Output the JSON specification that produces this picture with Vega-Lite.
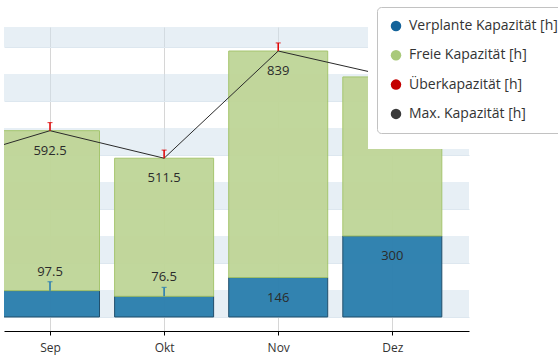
{
  "$schema": "https://vega.github.io/schema/vega-lite/v6.json",
  "width": 465,
  "height": 304,
  "autosize": {"type": "none"},
  "padding": {"left": 4, "top": 27, "right": 89, "bottom": 32},
  "background": "white",
  "config": {"font": "Open Sans", "view": {"stroke": null}},
  "datasets": {
    "bands": [
      {"lo": 0, "hi": 100}, {"lo": 200, "hi": 300}, {"lo": 400, "hi": 500},
      {"lo": 600, "hi": 700}, {"lo": 800, "hi": 900}, {"lo": 1000, "hi": 1100}
    ],
    "months": [
      {"idx": 1, "month": "Sep", "plan": 97.5, "frei": 592.5, "max": 690, "ueber": 720},
      {"idx": 2, "month": "Okt", "plan": 76.5, "frei": 511.5, "max": 588, "ueber": 618},
      {"idx": 3, "month": "Nov", "plan": 146, "frei": 839, "max": 985, "ueber": 1015},
      {"idx": 4, "month": "Dez", "plan": 300, "frei": 589, "max": 889, "ueber": 919}
    ],
    "maxline": [
      {"idx": 0, "month": "Aug", "max": 563},
      {"idx": 1, "month": "Sep", "max": 690},
      {"idx": 2, "month": "Okt", "max": 588},
      {"idx": 3, "month": "Nov", "max": 985},
      {"idx": 4, "month": "Dez", "max": 889}
    ],
    "planerr": [
      {"idx": 1, "month": "Sep", "plan": 97.5, "hi": 130.5},
      {"idx": 2, "month": "Okt", "plan": 76.5, "hi": 109.5}
    ],
    "series": [
      {"series": "Verplante Kapazität [h]"},
      {"series": "Freie Kapazität [h]"},
      {"series": "Überkapazität [h]"},
      {"series": "Max. Kapazität [h]"}
    ]
  },
  "layer": [
    {
      "data": {"name": "bands"},
      "mark": {"type": "rect", "fill": "#cfe0ec", "opacity": 0.5, "clip": true},
      "encoding": {
        "y": {
          "field": "lo", "type": "quantitative",
          "scale": {"domain": [-52, 1074], "nice": false, "zero": false, "padding": 0},
          "axis": {"labels": false, "ticks": false, "domain": false, "title": null,
                   "values": [0,100,200,300,400,500,600,700,800,900,1000],
                   "grid": true, "gridColor": "#dde7ef", "gridWidth": 1}
        },
        "y2": {"field": "hi"}
      }
    },
    {
      "data": {"name": "months"},
      "mark": {"type": "bar", "size": 99, "fill": "#2d80ae", "opacity": 0.97, "stroke": "#1b4a68", "strokeWidth": 1, "clip": true},
      "encoding": {
        "x": {
          "field": "idx", "type": "quantitative",
          "scale": {"domain": [0.5968, 4.672], "nice": false, "zero": false, "padding": 0},
          "axis": {
            "values": [1, 2, 3, 4],
            "labelExpr": "['Aug','Sep','Okt','Nov','Dez'][datum.value]",
            "title": null, "grid": true, "gridColor": "#d6d6d6",
            "domainColor": "#000000", "tickColor": "#000000", "tickSize": 4,
            "labelFontSize": 12, "labelColor": "#333333", "labelPadding": 7,
            "labelFont": "Open Sans"
          }
        },
        "y": {"field": "plan", "type": "quantitative"}
      }
    },
    {
      "data": {"name": "months"},
      "mark": {"type": "bar", "size": 99, "fill": "#c0d699", "opacity": 0.97, "stroke": "#a3c46a", "strokeWidth": 1, "clip": true},
      "encoding": {
        "x": {"field": "idx", "type": "quantitative"},
        "y": {"field": "plan", "type": "quantitative"},
        "y2": {"field": "max"}
      }
    },
    {
      "data": {"name": "maxline"},
      "mark": {"type": "line", "color": "#2a2a2a", "strokeWidth": 1, "clip": true},
      "encoding": {
        "x": {"field": "idx", "type": "quantitative"},
        "y": {"field": "max", "type": "quantitative"}
      }
    },
    {
      "data": {"name": "months"},
      "mark": {"type": "rule", "color": "#e00000", "strokeWidth": 1.5},
      "encoding": {
        "x": {"field": "idx", "type": "quantitative"},
        "y": {"field": "max", "type": "quantitative"},
        "y2": {"field": "ueber"}
      }
    },
    {
      "data": {"name": "months"},
      "mark": {"type": "tick", "orient": "horizontal", "size": 5, "thickness": 1.2, "color": "#e00000"},
      "encoding": {
        "x": {"field": "idx", "type": "quantitative"},
        "y": {"field": "ueber", "type": "quantitative"}
      }
    },
    {
      "data": {"name": "planerr"},
      "mark": {"type": "rule", "color": "#1f77b4", "strokeWidth": 1.5},
      "encoding": {
        "x": {"field": "idx", "type": "quantitative"},
        "y": {"field": "plan", "type": "quantitative"},
        "y2": {"field": "hi"}
      }
    },
    {
      "data": {"name": "planerr"},
      "mark": {"type": "tick", "orient": "horizontal", "size": 5, "thickness": 1.2, "color": "#1f77b4"},
      "encoding": {
        "x": {"field": "idx", "type": "quantitative"},
        "y": {"field": "hi", "type": "quantitative"}
      }
    },
    {
      "data": {"name": "months"},
      "mark": {"type": "text", "dy": 20, "fontSize": 13, "color": "#2b2b2b", "baseline": "middle"},
      "encoding": {
        "x": {"field": "idx", "type": "quantitative"},
        "y": {"field": "max", "type": "quantitative"},
        "text": {"field": "frei", "type": "quantitative"}
      }
    },
    {
      "data": {"name": "months"},
      "transform": [{"filter": "datum.plan < 120"}],
      "mark": {"type": "text", "dy": -19, "fontSize": 13, "color": "#2b2b2b", "baseline": "middle"},
      "encoding": {
        "x": {"field": "idx", "type": "quantitative"},
        "y": {"field": "plan", "type": "quantitative"},
        "text": {"field": "plan", "type": "quantitative"}
      }
    },
    {
      "data": {"name": "months"},
      "transform": [{"filter": "datum.plan >= 120"}],
      "mark": {"type": "text", "dy": 20, "fontSize": 13, "color": "#2b2b2b", "baseline": "middle"},
      "encoding": {
        "x": {"field": "idx", "type": "quantitative"},
        "y": {"field": "plan", "type": "quantitative"},
        "text": {"field": "plan", "type": "quantitative"}
      }
    },
    {
      "data": {"values": [{}]},
      "mark": {"type": "rect", "fill": "white", "clip": true},
      "encoding": {
        "x": {"datum": 3.787, "type": "quantitative"},
        "x2": {"datum": 5},
        "y": {"datum": 622, "type": "quantitative"},
        "y2": {"datum": 1200}
      }
    },
    {
      "data": {"name": "series"},
      "mark": {"type": "point", "filled": true, "opacity": 0, "clip": true},
      "encoding": {
        "color": {
          "field": "series", "type": "nominal",
          "scale": {
            "domain": ["Verplante Kapazität [h]", "Freie Kapazität [h]", "Überkapazität [h]", "Max. Kapazität [h]"],
            "range": ["#14639a", "#a9c97a", "#c40000", "#3a3a3a"]
          },
          "legend": {
            "orient": "none", "legendX": 373, "legendY": -20, "title": null,
            "symbolType": "circle", "symbolSize": 110, "symbolStrokeWidth": 0, "symbolOpacity": 1,
            "labelFontSize": 14, "labelFont": "Open Sans", "labelColor": "#333333", "labelLimit": 300,
            "fillColor": "white", "strokeColor": "#c2c2c2", "cornerRadius": 4,
            "padding": 12, "rowPadding": 15.3, "labelOffset": 6
          }
        }
      }
    }
  ]
}
